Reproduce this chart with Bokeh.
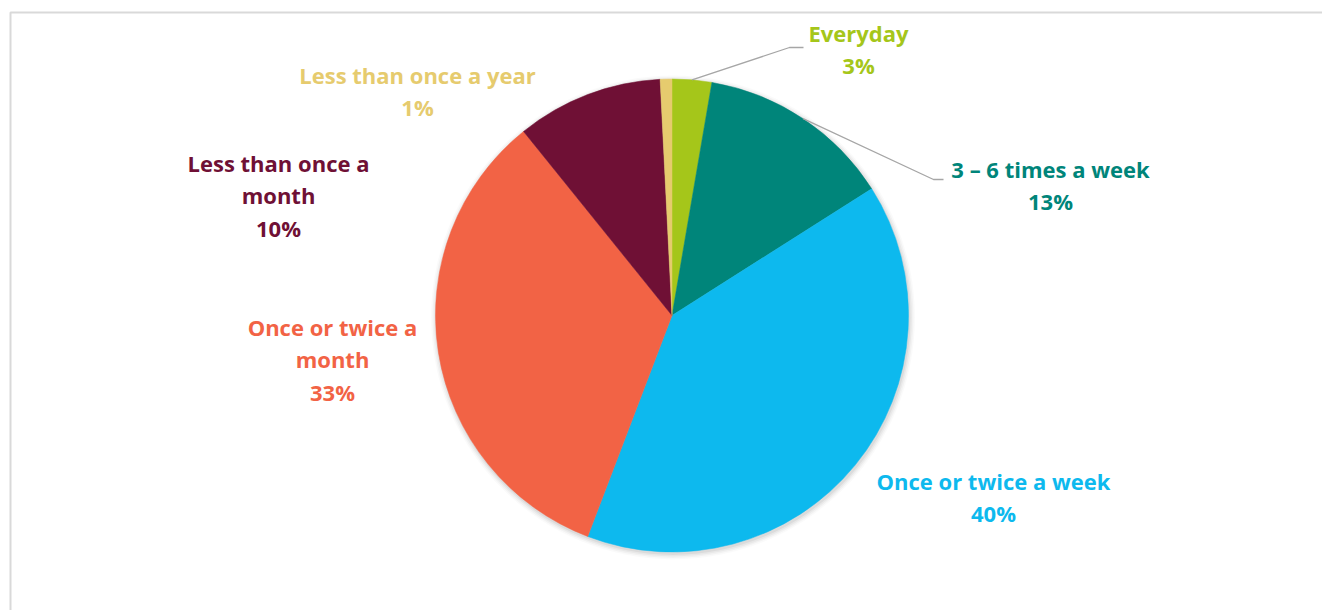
import math
import textwrap
from bokeh.plotting import figure
from bokeh.models import Range1d, ColumnDataSource
from bokeh.embed import file_html
from bokeh.resources import INLINE
from bokeh.core.properties import value

# ---- data ----
categories = ["Everyday", "3 – 6 times a week", "Once or twice a week",
              "Once or twice a month", "Less than once a month", "Less than once a year"]
shares = [2.7, 13.3, 39.8, 33.4, 10.0, 0.8]
colors = ["#A5C61A", "#00857A", "#0DB9EE", "#F26345", "#6F1035", "#E6CB6E"]

# ---- layout (page pixel coordinates) ----
W, H = 1322, 610
CX, CY, R = 671.5, 315.0, 236.5
wrap_width = [30, 30, 30, 16, 16, 30]
label_pos = [(858, 32), (1050, 168), (993, 480), (332, 326), (278, 162), (417, 74)]
leader = {0: (789, 47, 803), 1: (933, 179, 943)}
LINE_H = 32.5


def py(page_y):
    return H - page_y


p = figure(width=W, height=H, output_backend="svg", toolbar_location=None,
           x_range=Range1d(0, W), y_range=Range1d(0, H),
           min_border=0, outline_line_color=None,
           background_fill_color="white", border_fill_color="white")
p.axis.visible = False
p.grid.visible = False

# frame
p.line([10, 10, 1400], [py(700), py(12), py(12)], line_color="#D9D9D9", line_width=2)

# soft shadow
for k, a in enumerate([0.05, 0.04, 0.03, 0.02]):
    p.circle(x=[CX + 1], y=[py(CY) - 2], radius=R + 1 + k * 1.5,
             fill_color="black", fill_alpha=a, line_color=None)

total = sum(shares)
starts, ends, mids = [], [], []
cum = 0.0
for s in shares:
    a0 = math.pi / 2 - 2 * math.pi * cum / total
    cum += s
    a1 = math.pi / 2 - 2 * math.pi * cum / total
    starts.append(a0)
    ends.append(a1)
    mids.append((a0 + a1) / 2)

src = ColumnDataSource(dict(x=[CX] * len(shares), y=[py(CY)] * len(shares),
                            start=starts, end=ends, color=colors))
p.wedge(x="x", y="y", radius=R, start_angle="start", end_angle="end",
        direction="clock", fill_color="color", line_color="color", line_width=0.5,
        source=src)

# leader lines
for i, (ex, ey, hx) in leader.items():
    sx = CX + R * math.cos(mids[i])
    sy = py(CY) + R * math.sin(mids[i])
    p.line([sx, ex, hx], [sy, py(ey), py(ey)], line_color="#A6A6A6", line_width=1.3)

# labels
tx, ty, tt, tc = [], [], [], []
for i, cat in enumerate(categories):
    lines = textwrap.wrap(cat, wrap_width[i]) + [f"{round(shares[i])}%"]
    lx, ly = label_pos[i]
    for j, ln in enumerate(lines):
        tx.append(lx)
        ty.append(py(ly + j * LINE_H))
        tt.append(ln)
        tc.append(colors[i])

p.text(x="x", y="y", text="t", text_color="c",
       source=ColumnDataSource(dict(x=tx, y=ty, t=tt, c=tc)),
       text_font=value("Open Sans"), text_font_style="bold", text_font_size="22px",
       text_align="center", text_baseline="middle")

open("out.html", "w").write(file_html(p, INLINE))
